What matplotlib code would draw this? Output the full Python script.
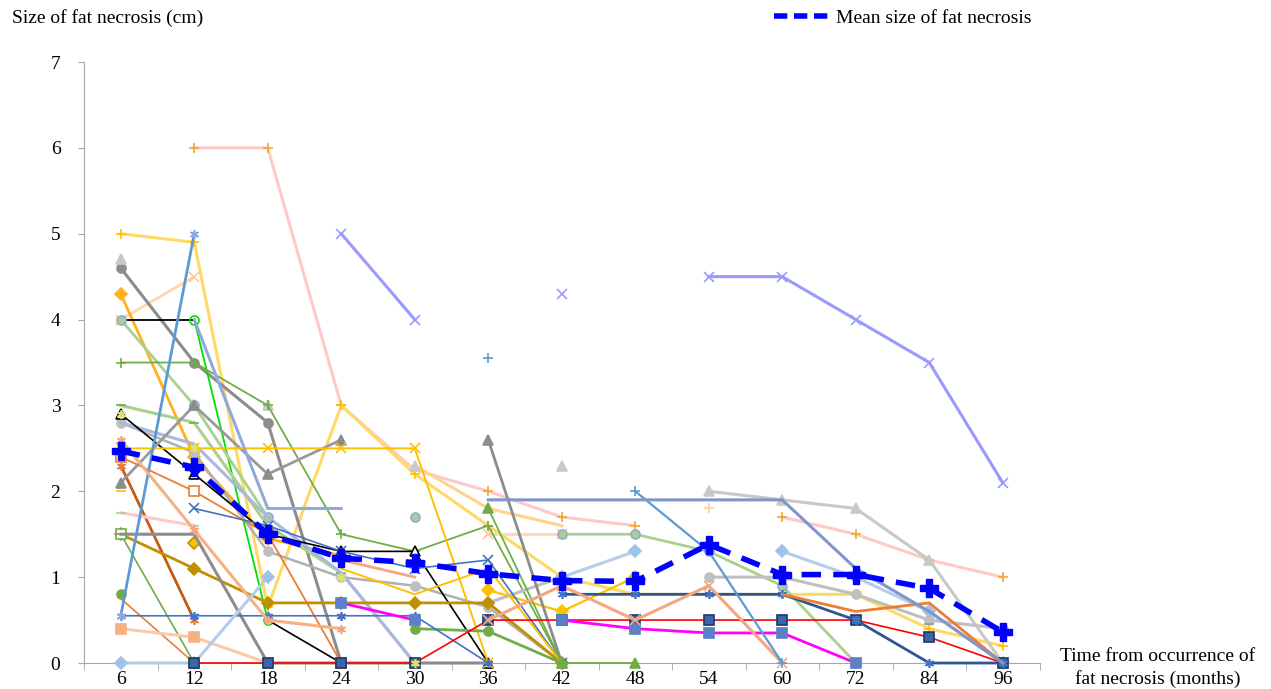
import numpy as np
import matplotlib
matplotlib.use("Agg")
import matplotlib.pyplot as plt
from matplotlib.lines import Line2D

NA = np.nan

# x categories (months)
months = ['6', '12', '18', '24', '30', '36', '42', '48', '54', '60', '72', '84', '96']

# mean size of fat necrosis
mean_size = [2.47, 2.28, 1.50, 1.22, 1.17, 1.04, 0.96, 0.95, 1.38, 1.03, 1.03, 0.87, 0.36]

# individual patients (cm), NA = not measured
p_pink_a = [NA, 6.0, 6.0, 3.0, 2.25, 2.0, 1.7, 1.6, NA, NA, NA, NA, NA]
p_pink_b = [NA, NA, NA, NA, NA, NA, NA, NA, NA, 1.7, 1.5, 1.2, 1.0]
p_yellow_thick = [5.0, 4.9, 0.65, 3.0, 2.2, 1.6, 1.0, 0.8, 0.8, 0.8, 0.8, 0.4, 0.2]
p_lorange = [NA, NA, NA, NA, 2.3, 1.8, 1.6, NA, NA, NA, NA, NA, NA]
p_peach_x = [4.0, 4.5, NA, NA, NA, NA, NA, NA, NA, NA, NA, NA, NA]
p_peach_mid = [NA, NA, NA, NA, NA, 1.5, 1.5, NA, NA, NA, NA, NA, NA]
p_orange_dia = [4.3, 2.4, 1.45, 1.25, NA, NA, NA, NA, NA, NA, NA, NA, NA]
p_orange_dia_b = [NA, NA, NA, NA, NA, 0.85, 0.6, 1.0, NA, NA, NA, NA, NA]
p_dgrey_circle = [4.6, 3.5, 2.8, 0.0, NA, NA, NA, NA, NA, NA, NA, NA, NA]
p_lgrey_tri = [4.7, NA, 3.0, NA, 2.3, NA, 2.3, NA, 2.0, 1.9, 1.8, 1.2, 0.0]
p_black_a = [4.0, 4.0, NA, NA, NA, NA, NA, NA, NA, NA, NA, NA, NA]
p_lime_circle = [NA, 4.0, 0.5, NA, NA, NA, NA, NA, NA, NA, NA, NA, NA]
p_sage_circle = [4.0, 3.0, 1.7, NA, 1.7, NA, 1.5, 1.5, 1.3, 0.9, 0.0, NA, NA]
p_green_plus = [3.5, 3.5, 3.0, 1.5, 1.3, 1.6, 0.0, NA, NA, NA, NA, NA, NA]
p_sage_line = [3.0, 2.8, 1.6, 1.05, 0.0, NA, NA, NA, NA, NA, NA, NA, NA]
p_lgrey_circle = [2.8, 2.45, 1.3, 1.0, 0.9, 0.65, 0.0, NA, NA, NA, NA, NA, NA]
p_lgrey_circle_b = [NA, NA, NA, NA, NA, 0.7, 1.0, NA, 1.0, 1.0, 0.8, 0.5, 0.4]
p_periwinkle_light = [2.8, 2.55, 1.7, 1.05, 0.0, NA, NA, NA, NA, NA, NA, NA, NA]
p_black_b = [2.9, 2.2, 1.5, 1.3, 1.3, 0.0, NA, NA, NA, NA, NA, NA, NA]
p_black_c = [NA, NA, 0.5, 0.0, NA, NA, NA, NA, NA, NA, NA, NA, NA]
p_orange_sq = [2.4, 2.0, 1.5, 0.0, NA, NA, NA, NA, NA, NA, NA, NA, NA]
p_salmon_short = [NA, NA, NA, 1.2, 1.0, NA, NA, NA, NA, NA, NA, NA, NA]
p_brown_ast = [2.3, 0.5, NA, NA, NA, NA, NA, NA, NA, NA, NA, NA, NA]
p_grey_tri = [2.1, 3.0, 2.2, 2.6, NA, NA, NA, NA, NA, NA, NA, NA, NA]
p_yellow_x = [2.5, 2.5, 2.5, 2.5, 2.5, 0.0, NA, NA, NA, NA, NA, NA, NA]
p_yellow_dash = [2.0, NA, NA, NA, NA, NA, NA, NA, NA, NA, NA, NA, NA]
p_pink_dash = [1.75, 1.6, NA, NA, NA, NA, NA, NA, NA, NA, NA, NA, NA]
p_gold_dia = [1.5, 1.1, 0.7, 0.7, 0.7, 0.7, 0.0, NA, NA, NA, NA, NA, NA]
p_gold_b = [NA, 1.4, NA, NA, NA, NA, NA, NA, NA, NA, NA, NA, NA]
p_green_sq = [1.5, 0.0, NA, NA, NA, NA, NA, NA, NA, NA, NA, NA, NA]
p_grey_dash = [1.5, 1.5, 0.0, 0.0, 0.0, 0.0, NA, NA, NA, NA, NA, NA, NA]
p_green_circle = [0.8, NA, NA, NA, 0.4, 0.37, 0.0, NA, NA, NA, NA, NA, NA]
p_orange_thin = [0.75, 0.0, NA, NA, NA, NA, NA, NA, NA, NA, NA, NA, NA]
p_blue_ast_line = [0.55, 0.55, 0.55, 0.55, 0.55, 0.0, NA, NA, NA, NA, NA, NA, NA]
p_blue_up = [0.55, 5.0, NA, NA, NA, NA, NA, NA, NA, NA, NA, NA, NA]
p_steel = [NA, 4.0, 1.8, 1.8, NA, NA, NA, NA, NA, NA, NA, NA, NA]
p_blue_x = [NA, 1.8, 1.6, 1.3, 1.1, 1.2, 0.0, NA, NA, NA, NA, NA, NA]
p_yellow_thin = [NA, NA, NA, 1.1, 0.8, 1.1, 0.0, NA, NA, NA, NA, NA, NA]
p_grey_tri_b = [NA, NA, NA, NA, NA, 2.6, 0.0, NA, NA, NA, NA, NA, NA]
p_green_tri = [NA, NA, NA, NA, NA, 1.8, 0.0, 0.0, NA, NA, NA, NA, NA]
p_salmon_sq = [0.4, 0.3, 0.0, NA, NA, NA, NA, NA, NA, NA, NA, NA, NA]
p_salmon_ast = [2.6, 1.55, 0.5, 0.4, NA, NA, NA, NA, NA, NA, NA, NA, NA]
p_lightblue_dia = [0.0, 0.0, 1.0, NA, NA, NA, 1.0, 1.3, NA, 1.3, 1.0, 0.6, 0.0]
p_red = [NA, 0.0, 0.0, 0.0, 0.0, 0.5, 0.5, 0.5, 0.5, 0.5, 0.5, 0.3, 0.0]
p_magenta = [NA, NA, NA, 0.7, 0.5, NA, 0.5, 0.4, 0.35, 0.35, 0.0, NA, NA]
p_navy_ast = [NA, NA, NA, NA, NA, NA, 0.8, 0.8, 0.8, 0.8, 0.5, 0.0, 0.0]
p_salmon_late = [NA, NA, NA, NA, NA, 0.5, 0.9, 0.5, 0.9, 0.0, NA, NA, NA]
p_orange_late = [NA, NA, NA, NA, NA, NA, NA, NA, NA, 0.8, 0.6, 0.7, 0.0]
p_periwinkle_x = [NA, NA, NA, 5.0, 4.0, NA, 4.3, NA, 4.5, 4.5, 4.0, 3.5, 2.1]
p_blue_plus = [NA, NA, NA, NA, NA, 3.55, NA, 2.0, 1.3, 0.0, NA, NA, NA]
p_steel_long = [NA, NA, NA, NA, NA, 1.9, 1.9, 1.9, 1.9, 1.9, 1.1, 0.6, 0.0]
p_lorange_plus = [NA, NA, NA, NA, NA, NA, NA, NA, 1.8, NA, NA, NA, NA]
p_lyellow_ast = [2.9, 2.5, NA, 1.0, 0.0, NA, NA, NA, NA, NA, NA, NA, NA]
p_lgrey_dash = [NA, NA, NA, NA, NA, NA, NA, NA, NA, NA, NA, 0.45, NA]

AST = (6, 2, 0)  # asterisk marker

# (values, line colour, line width, marker, marker face, marker edge)
series = [
    (p_pink_a, '#FFC9C9', 2.2, '+', 'none', '#F0A830'),
    (p_pink_b, '#FFC9C9', 2.2, '+', 'none', '#F0A830'),
    (p_periwinkle_x, '#9999FF', 2.2, 'x', 'none', '#9999FF'),
    (p_yellow_thick, '#FFD966', 2.2, '+', 'none', '#FFC000'),
    (p_lorange, '#FFD28F', 2.2, None, 'none', '#FFD28F'),
    (p_peach_x, '#FFD7A8', 2.0, 'x', 'none', '#FFC890'),
    (p_peach_mid, '#FFD7A8', 2.0, 'x', 'none', '#FFC890'),
    (p_orange_dia, '#FFB020', 2.0, 'D', '#FFB020', '#FFB020'),
    (p_orange_dia_b, '#FFC000', 1.6, 'D', '#FFC000', '#FFC000'),
    (p_dgrey_circle, '#8C8C8C', 2.2, 'o', '#8C8C8C', '#8C8C8C'),
    (p_lgrey_tri, '#C8C8C8', 2.2, '^', '#C8C8C8', '#C8C8C8'),
    (p_black_a, '#000000', 1.3, None, 'none', 'k'),
    (p_lime_circle, '#00E000', 1.3, 'o', 'none', '#00E000'),
    (p_sage_circle, '#A9D18E', 2.0, 'o', '#A9D18E', '#8FAADC'),
    (p_green_plus, '#70AD47', 1.3, '+', 'none', '#70AD47'),
    (p_sage_line, '#A9D18E', 2.2, '_', 'none', '#70AD47'),
    (p_lgrey_circle, '#B0B0B0', 1.8, 'o', '#BFBFBF', '#BFBFBF'),
    (p_lgrey_circle_b, '#BFBFBF', 2.2, 'o', '#BFBFBF', '#BFBFBF'),
    (p_periwinkle_light, '#A9B8E0', 2.2, None, 'none', '#A9B8E0'),
    (p_black_b, '#000000', 1.2, '^', 'white', 'k'),
    (p_black_c, '#000000', 1.2, None, 'none', 'k'),
    (p_orange_sq, '#ED7D31', 1.3, 's', 'white', '#ED7D31'),
    (p_salmon_short, '#F4A582', 2.0, None, 'none', '#F4A582'),
    (p_brown_ast, '#C55A11', 2.0, AST, 'none', '#ED7D31'),
    (p_grey_tri, '#999999', 2.0, '^', '#8C8C8C', '#8C8C8C'),
    (p_yellow_x, '#FFC000', 1.4, 'x', 'none', '#FFC000'),
    (p_yellow_dash, '#FFC000', 2.0, '_', 'none', '#FFC000'),
    (p_pink_dash, '#FFC9C9', 2.2, '_', 'none', '#A9D18E'),
    (p_gold_dia, '#BF9000', 2.0, 'D', '#BF9000', '#BF9000'),
    (p_gold_b, '#BF9000', 2.0, 'D', '#FFC000', '#BF9000'),
    (p_green_sq, '#70AD47', 1.2, 's', 'white', '#70AD47'),
    (p_grey_dash, '#8C8C8C', 2.2, '_', 'none', '#8C8C8C'),
    (p_green_circle, '#70AD47', 2.0, 'o', '#70AD47', '#70AD47'),
    (p_orange_thin, '#ED7D31', 1.2, None, 'none', '#ED7D31'),
    (p_blue_ast_line, '#4472C4', 1.2, AST, 'none', '#4472C4'),
    (p_blue_up, '#5B9BD5', 2.0, AST, 'none', '#8FAADC'),
    (p_steel, '#8FAADC', 2.2, None, 'none', '#8FAADC'),
    (p_blue_x, '#4472C4', 1.2, 'x', 'none', '#4472C4'),
    (p_yellow_thin, '#FFC000', 1.4, None, 'none', '#FFC000'),
    (p_grey_tri_b, '#8C8C8C', 2.0, '^', '#8C8C8C', '#8C8C8C'),
    (p_green_tri, '#70AD47', 1.3, '^', '#70AD47', '#70AD47'),
    (p_salmon_sq, '#F8CBAD', 2.2, 's', '#F4B183', '#F4B183'),
    (p_salmon_ast, '#F4B183', 2.2, AST, 'none', '#F4A582'),
    (p_lightblue_dia, '#B4CDEA', 2.2, 'D', '#9DC3E6', '#9DC3E6'),
    (p_red, '#FF0000', 1.2, 's', '#3B64AD', '#203864'),
    (p_magenta, '#FF00FF', 2.0, 's', '#5B7FC9', '#5B7FC9'),
    (p_navy_ast, '#2F5597', 2.0, AST, 'none', '#4472C4'),
    (p_salmon_late, '#F4A582', 2.2, 'x', 'none', '#F4A582'),
    (p_orange_late, '#ED7D31', 2.0, None, 'none', '#ED7D31'),
    (p_blue_plus, '#5B9BD5', 1.6, '+', 'none', '#5B9BD5'),
    (p_steel_long, '#7F96CC', 2.2, None, 'none', '#7F96CC'),
    (p_lorange_plus, '#FFD28F', 1.0, '+', 'none', '#FFD28F'),
    (p_lyellow_ast, '#FFFFFF', 0.0, AST, 'none', '#E0E070'),
    (p_lgrey_dash, '#BFBFBF', 0.0, '_', 'none', '#999999'),
]

plt.rcParams['font.family'] = ['Liberation Serif', 'DejaVu Serif']
plt.rcParams['font.size'] = 14

fig = plt.figure(figsize=(12.71, 6.89), dpi=100)
ax = fig.add_axes([84 / 1271, 1 - 663 / 689, (1039.5 - 84) / 1271, (663 - 62) / 689])

x = np.arange(len(months))
for vals, col, lw, mk, mfc, mec in series:
    ax.plot(x, vals, color=col, lw=lw, marker=mk, markersize=6.5,
            markerfacecolor=mfc, markeredgecolor=mec, markeredgewidth=1.2,
            clip_on=False, solid_joinstyle='miter')

# mean line on top
ax.plot(x, mean_size, color='#0000FF', lw=4, dashes=(3.5, 2.2), marker='P',
        markersize=13, markerfacecolor='#0000FF', markeredgecolor='#0000FF',
        clip_on=False, zorder=5)

ax.set_xlim(-0.5, len(months) - 0.5)
ax.set_ylim(0, 7)
ax.set_yticks(range(8))
ax.set_xticks(x)
ax.set_xticklabels(months)
ax.set_xticks(np.arange(-0.5, len(months), 1), minor=True)
ax.tick_params(axis='x', which='major', length=0, pad=6)
ax.tick_params(axis='x', which='minor', length=5, color='#A6A6A6', direction='out')
ax.tick_params(axis='y', length=4, color='#A6A6A6', pad=13)
for s in ['top', 'right']:
    ax.spines[s].set_visible(False)
for s in ['left', 'bottom']:
    ax.spines[s].set_color('#A6A6A6')
    ax.spines[s].set_zorder(0)

fig.text(12 / 1271, 1 - 18 / 689, 'Size of fat necrosis (cm)', ha='left', va='center')
fig.text(1158 / 1271, 1 - 668 / 689, 'Time from occurrence of\nfat necrosis (months)',
         ha='center', va='center', linespacing=1.3)

handle = Line2D([], [], color='#0000FF', lw=4, dashes=(2.4, 1.2))
fig.legend([handle], ['Mean size of fat necrosis'], loc='center left',
           bbox_to_anchor=(756 / 1271, 1 - 18 / 689), frameon=False,
           handlelength=2.9, handletextpad=0.3)

fig.savefig('out.png', dpi=100)
